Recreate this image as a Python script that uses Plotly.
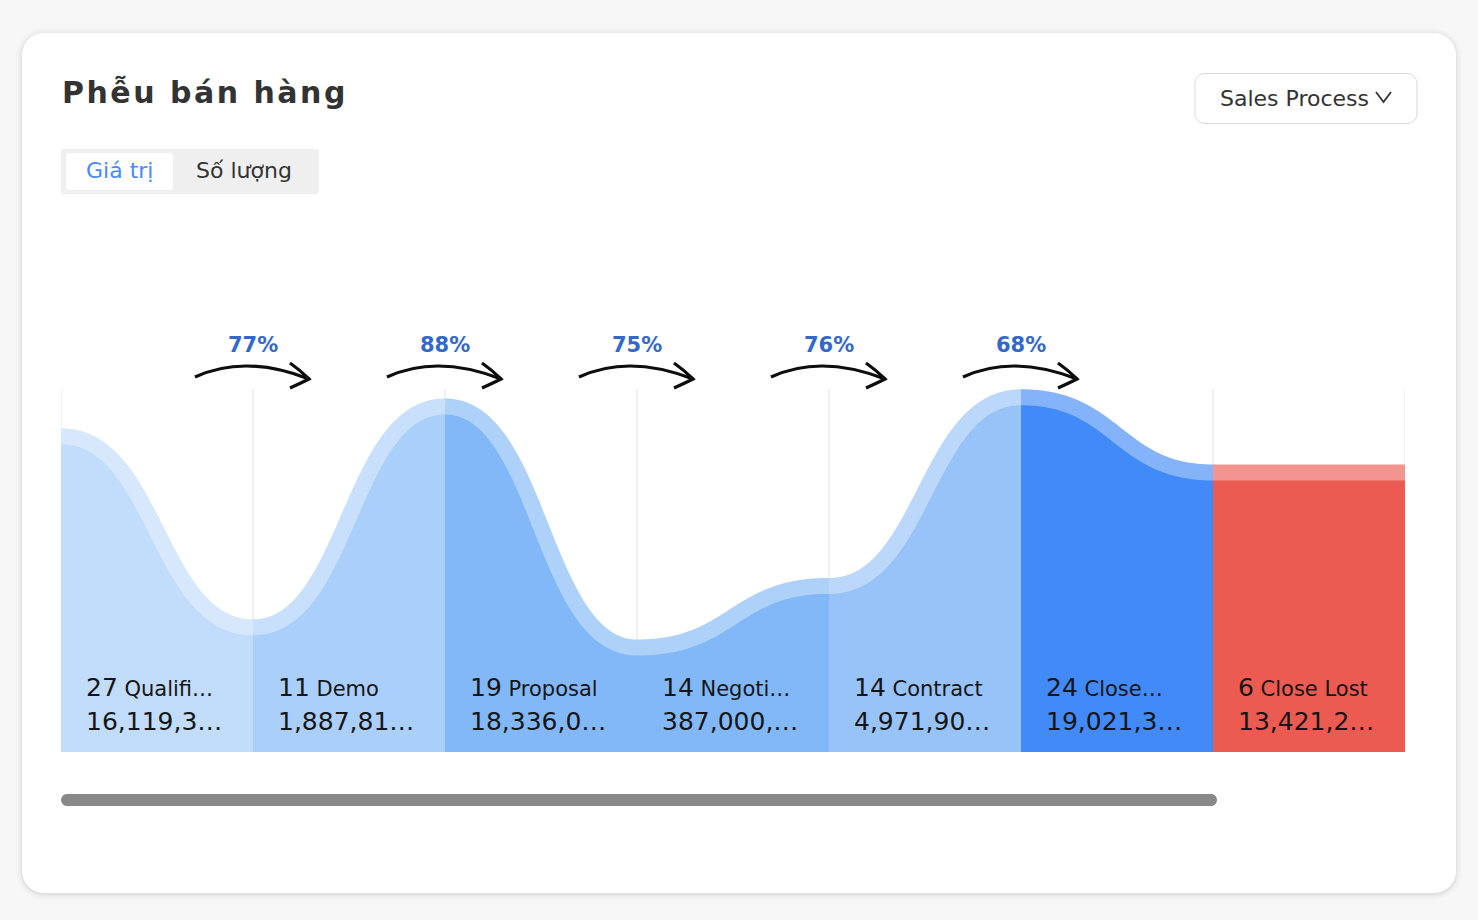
import numpy as np
import plotly.graph_objects as go

# ---------------- data ----------------
stages = ["Qualifi…", "Demo", "Proposal", "Negoti…", "Contract", "Close…", "Close Lost"]
counts = [27, 11, 19, 14, 14, 24, 6]
values = [16119300000, 1887810000, 18336000000, 387000000, 4971900000, 19021300000, 13421200000]
value_text = ["16,119,3…", "1,887,81…", "18,336,0…", "387,000,…", "4,971,90…", "19,021,3…", "13,421,2…"]
conv_rates = [77, 88, 75, 76, 68]
fill_colors = ["#c2dcfb", "#abcffb", "#82b8f8", "#82b8f8", "#97c3f9", "#418af8", "#eb5b52"]

title_text = "Phễu bán hàng"
toggle_labels = ["Giá trị", "Số lượng"]
dropdown_label = "Sales Process"

# ---------------- layout constants ----------------
W, H = 1478, 920
L, R, T, B = 61, 1405, 389, 752          # plot area in pixels
Y_MIN, Y_MAX = -7.40e9, 19.64e9
FONT = "DejaVu Sans"
n = len(values)
PXU = (R - L) / n                         # pixels per category unit


def X(px):
    return (px - L) / (R - L)


def Y(py):
    return (B - py) / (B - T)


def mix(hexc, a):
    h = hexc.lstrip("#")
    r, g, b = (int(h[i:i + 2], 16) for i in (0, 2, 4))
    r, g, b = (round(a * c + (1 - a) * 255) for c in (r, g, b))
    return f"rgb({r},{g},{b})"


def rrect(x0, y0, x1, y1, r):
    return (f"M {X(x0 + r)},{Y(y0)} L {X(x1 - r)},{Y(y0)} "
            f"C {X(x1 - r * 0.45)},{Y(y0)} {X(x1)},{Y(y0 + r * 0.45)} {X(x1)},{Y(y0 + r)} "
            f"L {X(x1)},{Y(y1 - r)} "
            f"C {X(x1)},{Y(y1 - r * 0.45)} {X(x1 - r * 0.45)},{Y(y1)} {X(x1 - r)},{Y(y1)} "
            f"L {X(x0 + r)},{Y(y1)} "
            f"C {X(x0 + r * 0.45)},{Y(y1)} {X(x0)},{Y(y1 - r * 0.45)} {X(x0)},{Y(y1 - r)} "
            f"L {X(x0)},{Y(y0 + r)} "
            f"C {X(x0)},{Y(y0 + r * 0.45)} {X(x0 + r * 0.45)},{Y(y0)} {X(x0 + r)},{Y(y0)} Z")


fig = go.Figure()

# ---------------- funnel segments ----------------
t = np.linspace(0, 1, 120)
for i in range(n):
    v0 = values[i]
    v1 = values[i + 1] if i + 1 < n else values[i]
    xs = i + 1.5 * t * (1 - t) + t ** 3
    ys = v0 + (v1 - v0) * (3 * t ** 2 - 2 * t ** 3)
    fig.add_trace(go.Scatter(
        x=list(xs) + [i + 1, i], y=list(ys) + [Y_MIN, Y_MIN],
        fill="toself", fillcolor=fill_colors[i], mode="lines",
        line=dict(width=0, color=fill_colors[i], simplify=False),
        hoverinfo="skip", showlegend=False))
    fig.add_trace(go.Scatter(
        x=xs, y=ys, mode="lines",
        line=dict(width=16, color=mix(fill_colors[i], 0.65), simplify=False),
        hoverinfo="skip", showlegend=False))

shapes = []
# page card with soft shadow
for grow, alpha in [(6, 0.012), (4, 0.018), (2, 0.025), (1, 0.03)]:
    shapes.append(dict(type="path", xref="paper", yref="paper", layer="below",
                       path=rrect(22 - grow, 33 - grow + 1, 1456 + grow, 893 + grow + 1, 22 + grow),
                       fillcolor=f"rgba(0,0,0,{alpha})", line=dict(width=0)))
shapes.append(dict(type="path", xref="paper", yref="paper", layer="below",
                   path=rrect(22, 33, 1456, 893, 22), fillcolor="white",
                   line=dict(width=0)))

# vertical grid lines at segment boundaries
for k in range(n + 1):
    vb = values[min(k, n - 1)]
    shapes.append(dict(type="line", xref="x", yref="y", layer="below",
                       x0=k, x1=k, y0=vb, y1=Y_MAX,
                       line=dict(color="#e3e3e3", width=1)))

# conversion arrows
annotations = []
for j, rate in enumerate(conv_rates):
    b = j + 1

    def ax(dpx):
        return b + dpx / PXU

    arc = (f"M {ax(-58)},{Y(377)} Q {ax(-8)},{Y(354)} {ax(56)},{Y(379)}")
    head = (f"M {ax(37)},{Y(363)} Q {ax(47)},{Y(370)} {ax(56)},{Y(379)} "
            f"Q {ax(46)},{Y(384)} {ax(37)},{Y(388)}")
    for p in (arc, head):
        shapes.append(dict(type="path", xref="x", yref="paper", path=p,
                           line=dict(color="#0d0d0d", width=3.2)))
    annotations.append(dict(xref="x", yref="paper", x=b, y=Y(345),
                            text=f"<b>{rate}%</b>", showarrow=False,
                            xanchor="center", yanchor="middle",
                            font=dict(family=FONT, size=21, color="#3468c8")))

# segment labels
for i in range(n):
    annotations.append(dict(xref="x", yref="paper", x=i + 23 / PXU, y=Y(687),
                            text=f"<span style='font-size:25px'>{counts[i]}</span> {stages[i]}",
                            showarrow=False, xanchor="left", yanchor="middle",
                            font=dict(family=FONT, size=21, color="#151515")))
    annotations.append(dict(xref="x", yref="paper", x=i + 23 / PXU, y=Y(721),
                            text=value_text[i], showarrow=False,
                            xanchor="left", yanchor="middle",
                            font=dict(family=FONT, size=25, color="#151515")))

# scrollbar
shapes.append(dict(type="path", xref="paper", yref="paper",
                   path=rrect(61, 794, 1217, 806, 6), fillcolor="#898989",
                   line=dict(width=0)))

# title
annotations.append(dict(xref="paper", yref="paper", x=X(60), y=Y(92),
                        text=f"<span style='letter-spacing:2.5px'><b>{title_text}</b></span>",
                        showarrow=False, xanchor="left", yanchor="middle",
                        font=dict(family=FONT, size=30, color="#333333")))

# toggle
shapes.append(dict(type="path", xref="paper", yref="paper",
                   path=rrect(61, 149, 319, 194, 3), fillcolor="#efefef",
                   line=dict(width=0)))
shapes.append(dict(type="path", xref="paper", yref="paper",
                   path=rrect(66, 153, 173, 190, 3), fillcolor="#ffffff",
                   line=dict(width=0)))
annotations.append(dict(xref="paper", yref="paper", x=X(119), y=Y(171),
                        text=toggle_labels[0], showarrow=False,
                        xanchor="center", yanchor="middle",
                        font=dict(family=FONT, size=22, color="#4a8af4")))
annotations.append(dict(xref="paper", yref="paper", x=X(243.5), y=Y(171),
                        text=toggle_labels[1], showarrow=False,
                        xanchor="center", yanchor="middle",
                        font=dict(family=FONT, size=22, color="#333333")))

# dropdown
shapes.append(dict(type="path", xref="paper", yref="paper",
                   path=rrect(1195, 73.5, 1417, 123.5, 10), fillcolor="#ffffff",
                   line=dict(color="#d9d9d9", width=1)))
annotations.append(dict(xref="paper", yref="paper", x=X(1218), y=Y(98),
                        text=dropdown_label, showarrow=False,
                        xanchor="left", yanchor="middle",
                        font=dict(family=FONT, size=22, color="#333333")))
shapes.append(dict(type="path", xref="paper", yref="paper",
                   path=f"M {X(1376)},{Y(92)} L {X(1383.5)},{Y(102)} L {X(1391)},{Y(92)}",
                   line=dict(color="#333333", width=1.8)))

fig.update_layout(
    width=W, height=H, autosize=False,
    margin=dict(l=L, r=W - R, t=T, b=H - B, pad=0),
    paper_bgcolor="#f7f7f7", plot_bgcolor="rgba(0,0,0,0)",
    xaxis=dict(range=[0, n], visible=False, fixedrange=True),
    yaxis=dict(range=[Y_MIN, Y_MAX], visible=False, fixedrange=True),
    shapes=shapes, annotations=annotations, showlegend=False,
    hovermode=False,
)

fig.write_html("out.html", config={"displayModeBar": False})
